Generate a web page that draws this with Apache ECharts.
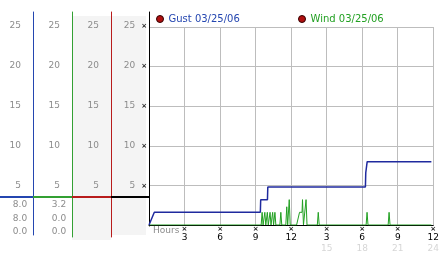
<!DOCTYPE html>
<html><head><meta charset="utf-8">
<script src="https://cdn.jsdelivr.net/npm/echarts@6/dist/echarts.min.js"></script>
<style>html,body{margin:0;padding:0;background:#fff}#c{width:442px;height:253px}</style>
</head><body><div id="c"></div>
<script>
// ---- data ----
const yTickValues = [5, 10, 15, 20, 25];
const xTickHours = [0, 3, 6, 9, 12, 15, 18, 21, 24];
const xTickLabels = ['', '3', '6', '9', '12', '3', '6', '9', '12'];
const xTickAltLabels = ['', '', '', '', '', '15', '18', '21', '24'];
const gustName = 'Gust 03/25/06';
const windName = 'Wind 03/25/06';
const gustTimes  = [0, 0.08, 0.45, 9.4, 9.43, 10.0, 10.03, 18.27, 18.3, 18.42, 23.84];
const gustSpeeds = [0, 0,    1.6,  1.6, 3.2,  3.2,  4.8,   4.8,   6.6,  8.0,   8.0];
const windTimes = [0,
  9.47, 9.55, 9.63, 9.70, 9.78, 9.86, 9.91, 9.99, 10.07, 10.14, 10.22, 10.30,
  10.36, 10.44, 10.52, 10.55, 10.63, 10.71, 11.05, 11.13, 11.21,
  11.55, 11.63, 11.71, 11.76, 11.84, 11.92,
  12.46, 12.71, 12.92, 12.96, 13.04, 13.18, 13.26, 13.34,
  14.21, 14.29, 14.37, 18.33, 18.41, 18.49, 20.19, 20.27, 20.35, 23.84];
const windSpeeds = [0,
  0, 1.6, 0, 0, 1.6, 0, 0, 1.6, 0, 0, 1.6, 0,
  0, 1.6, 0, 0, 1.6, 0, 0, 1.6, 0,
  0, 2.3, 0, 0, 3.2, 0,
  0, 1.6, 1.6, 3.2, 0, 0, 3.2, 0,
  0, 1.6, 0, 0, 1.6, 0, 0, 1.6, 0, 0];
const gustStats = ['8.0', '8.0', '0.0'];
const windStats = ['3.2', '0.0', '0.0'];
const levelMarker = 3.7;

// ---- chart ----
const FONT = 'DejaVu Sans';
const GREY = '#8c8c8c';
const BLUE = '#2446b0', GREEN = '#33a033', RED = '#b81c1c', BLACK = '#000';

const gustData = gustTimes.map((t, i) => [t, gustSpeeds[i]]);
const windData = windTimes.map((t, i) => [t, windSpeeds[i]]);

const cols = [
  {left: 0,   width: 33, top: 12, bottom: 18, min: -1.125, color: BLUE},
  {left: 33,  width: 39, top: 12, bottom: 16, min: -1.375, color: GREEN},
  {left: 72,  width: 39, top: 12, bottom: 16, min: -1.375, color: RED},
  {left: 111, width: 38, top: 12, bottom: 27, min: 0,      color: BLACK}
];

const grids = [{left: 149, right: 4, top: 27, bottom: 27}].concat(
  cols.map(c => ({left: c.left, width: c.width, top: c.top, bottom: c.bottom})));

const xAxes = [{
  type: 'value', gridIndex: 0, min: 0, max: 24, interval: 3,
  axisLine: {show: true, lineStyle: {color: '#000', width: 1}},
  axisTick: {show: false},
  splitLine: {show: true, showMinLine: false, lineStyle: {color: '#bdbdbd', width: 1}},
  axisLabel: {
    margin: 1, showMinLabel: true, showMaxLabel: true,
    formatter: v => {
      const i = xTickHours.indexOf(v);
      if (i <= 0) return '';
      let s = '{t|×}\n{n|' + xTickLabels[i] + '}';
      s += '\n{f|' + (xTickAltLabels[i] || ' ') + '}';
      return s;
    },
    rich: {
      t: {fontSize: 7, lineHeight: 6, color: '#222', fontFamily: FONT, fontWeight: 'bold'},
      n: {fontSize: 9, lineHeight: 11, color: '#000', fontFamily: FONT},
      f: {fontSize: 9, lineHeight: 11, color: '#d6d6d6', fontFamily: FONT}
    }
  }
}].concat(cols.map((c, i) => ({type: 'value', gridIndex: i + 1, min: 0, max: 1, show: false})));

const yAxes = [{
  type: 'value', gridIndex: 0, min: 0, max: 25, interval: 5,
  axisLine: {show: false}, axisTick: {show: false}, axisLabel: {show: false},
  splitLine: {show: true, showMinLine: false, lineStyle: {color: '#bdbdbd', width: 1}}
}].concat(cols.map((c, i) => ({
  type: 'value', gridIndex: i + 1, position: 'right', min: c.min, max: 26.75,
  axisLine: {show: true, onZero: false, lineStyle: {color: c.color, width: 1}},
  axisTick: {show: false}, splitLine: {show: false},
  axisLabel: {
    inside: true, margin: i === 3 ? 2 : 12, customValues: yTickValues,
    color: GREY, fontSize: 9, fontFamily: FONT,
    formatter: i === 3 ? (v => '{n|' + v + '}{t|×}') : (v => String(v)),
    rich: i === 3 ? {
      n: {color: GREY, fontSize: 9, fontFamily: FONT, padding: [0, 6, 0, 0]},
      t: {color: '#222', fontSize: 7, fontFamily: FONT, fontWeight: 'bold'}
    } : undefined
  }
})));

const markerSeries = cols.map((c, i) => ({
  type: 'line', xAxisIndex: i + 1, yAxisIndex: i + 1, data: [], silent: true,
  markLine: {
    symbol: 'none', silent: true, animation: false, label: {show: false},
    lineStyle: {color: c.color, width: 2, type: 'solid'},
    data: [{yAxis: levelMarker}]
  }
}));

const statText = (arr, x) => arr.map((s, k) => ({
  type: 'text', x: x, y: 204.5 + k * 13.7, z: 5,
  style: {text: s, fill: GREY, font: '9px "' + FONT + '"', textAlign: 'center', textVerticalAlign: 'middle'}
}));

const chart = echarts.init(document.getElementById('c'), null, {renderer: 'canvas'});
chart.setOption({
  animation: false,
  backgroundColor: '#fff',
  grid: grids,
  xAxis: xAxes,
  yAxis: yAxes,
  legend: [
    {left: 156, top: 14, padding: 0, itemWidth: 7, itemHeight: 7, selectedMode: false,
     textStyle: {fontSize: 10, fontFamily: FONT},
     data: [{name: gustName, icon: 'circle', itemStyle: {color: '#b01010', borderColor: '#300', borderWidth: 1}, textStyle: {color: '#2446b0'}}]},
    {left: 298, top: 14, padding: 0, itemWidth: 7, itemHeight: 7, selectedMode: false,
     textStyle: {fontSize: 10, fontFamily: FONT},
     data: [{name: windName, icon: 'circle', itemStyle: {color: '#b01010', borderColor: '#300', borderWidth: 1}, textStyle: {color: '#22a022'}}]}
  ],
  graphic: [
    {type: 'rect', shape: {x: 72, y: 16, width: 39, height: 224}, style: {fill: '#f4f4f4'}, z: -10, silent: true},
    {type: 'rect', shape: {x: 111, y: 16, width: 35, height: 219}, style: {fill: '#f4f4f4'}, z: -10, silent: true},
    {type: 'text', x: 153, y: 231, z: 5,
     style: {text: 'Hours', fill: GREY, font: '9px "' + FONT + '"', textAlign: 'left', textVerticalAlign: 'middle'}}
  ].concat(statText(gustStats, 20), statText(windStats, 59)),
  series: [
    {name: windName, type: 'line', xAxisIndex: 0, yAxisIndex: 0, data: windData,
     showSymbol: false, symbol: 'none', lineStyle: {color: '#22a022', width: 1}, itemStyle: {color: '#22a022'}, z: 3},
    {name: gustName, type: 'line', xAxisIndex: 0, yAxisIndex: 0, data: gustData,
     showSymbol: false, symbol: 'none', lineStyle: {color: '#1f2a9e', width: 1.5}, itemStyle: {color: '#1f2a9e'}, z: 4}
  ].concat(markerSeries)
});
</script>
</body></html>
